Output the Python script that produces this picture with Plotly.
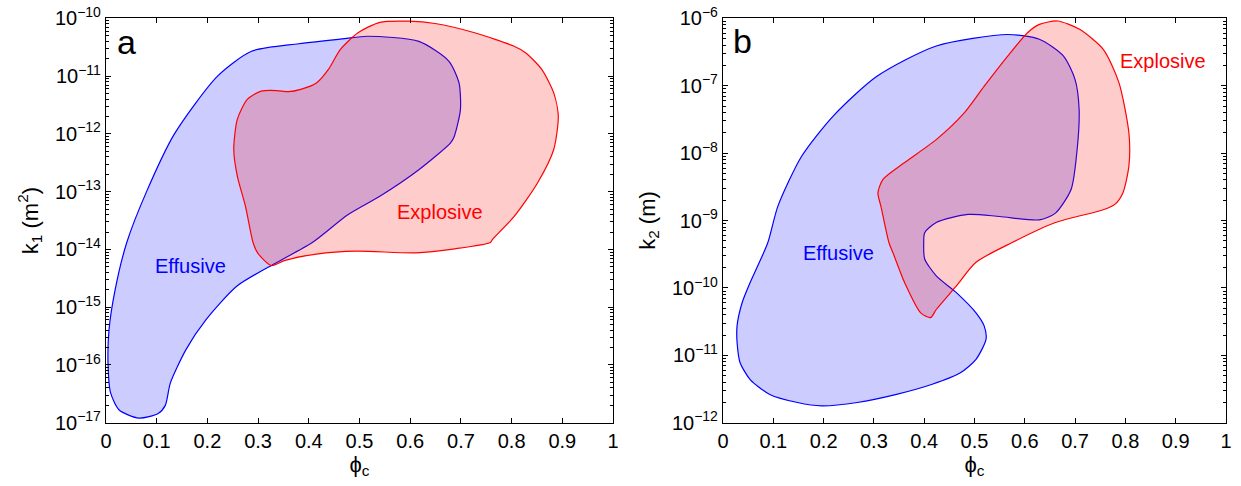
import plotly.graph_objects as go

# ---- Panel a: phi_c vs k1 (m^2), log10 values ----
a_eff_x = [0.287, 0.38, 0.47, 0.516, 0.617, 0.676, 0.696, 0.699, 0.687, 0.68,
           0.617, 0.54, 0.477, 0.407, 0.336, 0.259, 0.197, 0.158, 0.127, 0.117,
           0.103, 0.065, 0.026, 0.009, 0.004, 0.006, 0.018, 0.041, 0.08, 0.135, 0.22, 0.287]
a_eff_logy = [-10.57, -10.44, -10.35, -10.31, -10.40, -10.74, -11.11, -11.58, -12.04, -12.15,
              -12.62, -13.08, -13.40, -13.88, -14.23, -14.63, -15.22, -15.73, -16.31, -16.70,
              -16.84, -16.92, -16.78, -16.48, -15.96, -15.39, -14.70, -13.88, -13.0, -12.0, -11.0, -10.57]

a_exp_x = [0.326, 0.353, 0.415, 0.494, 0.611, 0.688, 0.758, 0.762, 0.805, 0.851, 0.883,
           0.892, 0.883, 0.859, 0.828, 0.804, 0.727, 0.649, 0.598, 0.54, 0.497, 0.462,
           0.439, 0.415, 0.384, 0.36, 0.337, 0.306, 0.279, 0.259, 0.252, 0.259, 0.275,
           0.29, 0.299, 0.326]
a_exp_logy = [-14.28, -14.19, -14.08, -14.03, -14.06, -13.99, -13.88, -13.83, -13.43, -12.85, -12.27,
              -11.69, -11.29, -10.88, -10.60, -10.48, -10.25, -10.09, -10.05, -10.07, -10.25, -10.54,
              -10.88, -11.12, -11.23, -11.27, -11.25, -11.26, -11.40, -11.75, -12.27, -12.73, -13.25,
              -13.88, -14.06, -14.28]

# ---- Panel b: phi_c vs k2 (m), log10 values ----
b_eff_x = [0.566, 0.424, 0.306, 0.219, 0.156, 0.109, 0.089, 0.054, 0.038, 0.028, 0.028,
           0.034, 0.054, 0.093, 0.148, 0.196, 0.267, 0.345, 0.416, 0.472, 0.503, 0.523,
           0.519, 0.503, 0.464, 0.424, 0.401, 0.399, 0.401, 0.424, 0.487, 0.55, 0.629,
           0.661, 0.692, 0.704, 0.708, 0.70, 0.677, 0.629, 0.566]
b_eff_logy = [-6.24, -6.41, -6.86, -7.45, -8.05, -8.79, -9.33, -9.92, -10.22, -10.56, -10.81,
              -11.11, -11.36, -11.58, -11.70, -11.75, -11.70, -11.58, -11.43, -11.26, -11.06, -10.76,
              -10.56, -10.37, -10.07, -9.82, -9.57, -9.33, -9.18, -9.03, -8.91, -8.94, -8.99,
              -8.89, -8.54, -7.95, -7.35, -6.91, -6.56, -6.31, -6.24]

b_exp_x = [0.665, 0.708, 0.756, 0.787, 0.807, 0.807, 0.795, 0.779, 0.756, 0.661, 0.574,
           0.503, 0.464, 0.424, 0.413, 0.393, 0.361, 0.338, 0.33, 0.314, 0.308, 0.318,
           0.361, 0.424, 0.48, 0.519, 0.566, 0.606, 0.629, 0.665]
b_exp_logy = [-6.04, -6.16, -6.46, -6.95, -7.70, -8.19, -8.59, -8.76, -8.84, -9.03, -9.33,
              -9.62, -9.97, -10.32, -10.44, -10.37, -9.92, -9.48, -9.33, -8.79, -8.59, -8.39,
              -8.14, -7.80, -7.40, -7.01, -6.56, -6.21, -6.09, -6.04]

x_ticks = [0, 0.1, 0.2, 0.3, 0.4, 0.5, 0.6, 0.7, 0.8, 0.9, 1]
x_ticktext = ["0", "0.1", "0.2", "0.3", "0.4", "0.5", "0.6", "0.7", "0.8", "0.9", "1"]
a_y_exponents = [-17, -16, -15, -14, -13, -12, -11, -10]
b_y_exponents = [-12, -11, -10, -9, -8, -7, -6]

BLUE = "#0000ff"
RED = "#ff0000"
FONT = "Liberation Sans, Arial, sans-serif"

fig = go.Figure()

def region(x, logy, color, fill, xa, ya):
    return go.Scatter(x=x, y=[10 ** v for v in logy], mode="lines", fill="toself",
                      fillcolor=fill, line=dict(color=color, width=1.2, shape="spline", smoothing=0.7),
                      xaxis=xa, yaxis=ya, showlegend=False, hoverinfo="skip")

fig.add_trace(region(a_eff_x, a_eff_logy, BLUE, "rgba(0,0,255,0.2)", "x", "y"))
fig.add_trace(region(a_exp_x, a_exp_logy, RED, "rgba(255,0,0,0.2)", "x", "y"))
fig.add_trace(region(b_eff_x, b_eff_logy, BLUE, "rgba(0,0,255,0.2)", "x2", "y2"))
fig.add_trace(region(b_exp_x, b_exp_logy, RED, "rgba(255,0,0,0.2)", "x2", "y2"))

def minor_vals(lo, hi):
    return [k * 10.0 ** n for n in range(lo, hi) for k in range(2, 10)]

common_x = dict(range=[0, 1], tickmode="array", tickvals=x_ticks, ticktext=x_ticktext, ticks="inside", ticklen=5,
                tickcolor="black", showline=True, linecolor="black", linewidth=1.2, mirror="ticks",
                showgrid=False, zeroline=False, automargin=False,
                tickfont=dict(size=20, color="black", family=FONT),
                title=dict(text="ϕ<sub>c</sub>", font=dict(size=22, color="black", family=FONT), standoff=4))

def yaxis(exps, title):
    lo, hi = exps[0], exps[-1]
    return dict(type="log", range=[lo, hi], tickmode="array",
                tickvals=[10.0 ** e for e in exps],
                ticktext=["10<sup>\u2212%d</sup>" % (-e) for e in exps],
                ticks="inside", ticklen=5,
                tickcolor="black", showline=True, linecolor="black", linewidth=1.2, mirror="ticks",
                showgrid=False, zeroline=False, automargin=False,
                tickfont=dict(size=20, color="black", family=FONT),
                minor=dict(tickmode="array", tickvals=minor_vals(lo, hi), ticks="inside", ticklen=2.5,
                           tickcolor="black", showgrid=False),
                domain=[0.1302, 0.9623],
                title=dict(text=title, font=dict(size=22, color="black", family=FONT), standoff=10))

fig.update_layout(
    width=1241, height=486, margin=dict(l=0, r=0, t=0, b=0),
    paper_bgcolor="white", plot_bgcolor="white", hovermode=False,
    xaxis=dict(common_x, domain=[0.0854, 0.4940], anchor="y"),
    yaxis=dict(yaxis(a_y_exponents, "k<sub>1</sub> (m<sup>2</sup>)"), anchor="x"),
    xaxis2=dict(common_x, domain=[0.5826, 0.9879], anchor="y2"),
    yaxis2=dict(yaxis(b_y_exponents, "k<sub>2</sub> (m)"), anchor="x2"),
)

ann = [
    dict(text="a", x=0.04, y=-10.41, xref="x", yref="y", font=dict(size=34, color="black")),
    dict(text="Explosive", x=0.658, y=-13.36, xref="x", yref="y", font=dict(size=20, color=RED)),
    dict(text="Effusive", x=0.166, y=-14.28, xref="x", yref="y", font=dict(size=20, color=BLUE)),
    dict(text="b", x=0.038, y=-6.34, xref="x2", yref="y2", font=dict(size=34, color="black")),
    dict(text="Explosive", x=0.875, y=-6.64, xref="x2", yref="y2", font=dict(size=20, color=RED)),
    dict(text="Effusive", x=0.229, y=-9.48, xref="x2", yref="y2", font=dict(size=20, color=BLUE)),
]
for a in ann:
    a["font"]["family"] = FONT
    fig.add_annotation(showarrow=False, **a)

fig.write_html("out.html", config={"displayModeBar": False},
               post_script="document.body.style.margin='0px';")
